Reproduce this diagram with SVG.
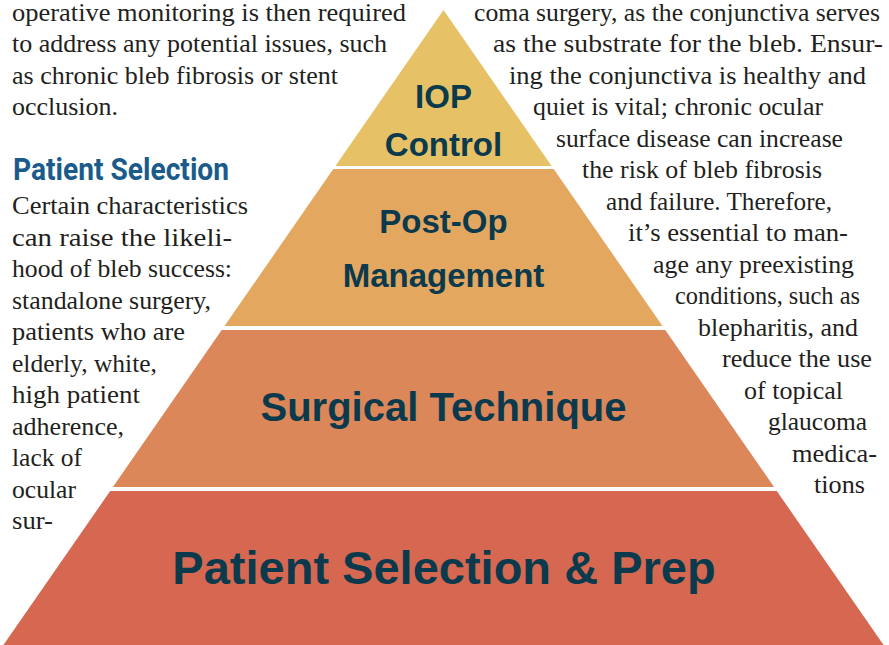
<svg xmlns="http://www.w3.org/2000/svg" width="889" height="645" viewBox="0 0 889 645">
  <style>
    .body { font-family: "Liberation Serif", "Times New Roman", serif; font-size: 26px; fill: #231f20; }
    .head { font-family: "Roboto", "Liberation Sans", sans-serif; font-weight: bold; font-size: 31px; fill: #1b5b8c; }
    .tier { font-family: "Liberation Sans", Arial, sans-serif; font-weight: bold; fill: #0c3a4d; text-anchor: middle; }
  </style>
  <rect width="889" height="645" fill="#ffffff"/>

  <!-- pyramid tiers, apex to base -->
  <g id="tier-iop">
    <polygon points="443.5,10 335.4,166 551.6,166" fill="#e6c166"/>
    <text class="tier" x="443.5" y="108" font-size="33">IOP</text>
    <text class="tier" x="443.5" y="156" font-size="33">Control</text>
  </g>
  <g id="tier-postop">
    <polygon points="333.3,169 553.7,169 662.5,326 224.5,326" fill="#e3a760"/>
    <text class="tier" x="443.5" y="233" font-size="33">Post-Op</text>
    <text class="tier" x="443.5" y="287" font-size="33">Management</text>
  </g>
  <g id="tier-surgical">
    <polygon points="221.7,330 665.3,330 774.1,487 112.9,487" fill="#db875a"/>
    <text class="tier" x="443.5" y="421" font-size="40">Surgical Technique</text>
  </g>
  <g id="tier-patient">
    <polygon points="110.2,491 776.8,491 883.6,645 3.4,645" fill="#d66852"/>
    <text class="tier" x="444" y="584" font-size="47">Patient Selection &amp; Prep</text>
  </g>

  <g id="connectors"/>

  <!-- left column copy -->
  <g id="left-text" class="body" font-family="Liberation Serif, serif">
    <text x="12" y="21" textLength="394" lengthAdjust="spacingAndGlyphs">operative monitoring is then required</text>
    <text x="12" y="52" textLength="375" lengthAdjust="spacingAndGlyphs">to address any potential issues, such</text>
    <text x="12" y="84" textLength="326" lengthAdjust="spacingAndGlyphs">as chronic bleb fibrosis or stent</text>
    <text x="12" y="115" textLength="106" lengthAdjust="spacingAndGlyphs">occlusion.</text>
    <text class="head" x="13" y="180" textLength="216" lengthAdjust="spacingAndGlyphs">Patient Selection</text>
    <text x="12" y="214" textLength="236" lengthAdjust="spacingAndGlyphs">Certain characteristics</text>
    <text x="12" y="246" textLength="220" lengthAdjust="spacingAndGlyphs">can raise the likeli-</text>
    <text x="12" y="277" textLength="220" lengthAdjust="spacingAndGlyphs">hood of bleb success:</text>
    <text x="12" y="309" textLength="199" lengthAdjust="spacingAndGlyphs">standalone surgery,</text>
    <text x="12" y="340" textLength="173" lengthAdjust="spacingAndGlyphs">patients who are</text>
    <text x="12" y="372" textLength="145" lengthAdjust="spacingAndGlyphs">elderly, white,</text>
    <text x="12" y="403" textLength="128" lengthAdjust="spacingAndGlyphs">high patient</text>
    <text x="12" y="435" textLength="112" lengthAdjust="spacingAndGlyphs">adherence,</text>
    <text x="12" y="466" textLength="70" lengthAdjust="spacingAndGlyphs">lack of</text>
    <text x="12" y="498" textLength="64" lengthAdjust="spacingAndGlyphs">ocular</text>
    <text x="12" y="529" textLength="41" lengthAdjust="spacingAndGlyphs">sur-</text>
  </g>

  <!-- right column copy, wrapped along the pyramid edge -->
  <g id="right-text" class="body" font-family="Liberation Serif, serif">
    <text x="474" y="21" textLength="406" lengthAdjust="spacingAndGlyphs">coma surgery, as the conjunctiva serves</text>
    <text x="493" y="52" textLength="390" lengthAdjust="spacingAndGlyphs">as the substrate for the bleb. Ensur-</text>
    <text x="509" y="84" textLength="357" lengthAdjust="spacingAndGlyphs">ing the conjunctiva is healthy and</text>
    <text x="533" y="115" textLength="290" lengthAdjust="spacingAndGlyphs">quiet is vital; chronic ocular</text>
    <text x="556" y="147" textLength="287" lengthAdjust="spacingAndGlyphs">surface disease can increase</text>
    <text x="582" y="178" textLength="240" lengthAdjust="spacingAndGlyphs">the risk of bleb fibrosis</text>
    <text x="606" y="210" textLength="226" lengthAdjust="spacingAndGlyphs">and failure. Therefore,</text>
    <text x="628" y="241" textLength="220" lengthAdjust="spacingAndGlyphs">it’s essential to man-</text>
    <text x="653" y="273" textLength="201" lengthAdjust="spacingAndGlyphs">age any preexisting</text>
    <text x="675" y="304" textLength="185" lengthAdjust="spacingAndGlyphs">conditions, such as</text>
    <text x="698" y="336" textLength="160" lengthAdjust="spacingAndGlyphs">blepharitis, and</text>
    <text x="722" y="367" textLength="150" lengthAdjust="spacingAndGlyphs">reduce the use</text>
    <text x="744" y="399" textLength="99" lengthAdjust="spacingAndGlyphs">of topical</text>
    <text x="768" y="430" textLength="99" lengthAdjust="spacingAndGlyphs">glaucoma</text>
    <text x="792" y="462" textLength="85" lengthAdjust="spacingAndGlyphs">medica-</text>
    <text x="814" y="493" textLength="51" lengthAdjust="spacingAndGlyphs">tions</text>
  </g>
</svg>
